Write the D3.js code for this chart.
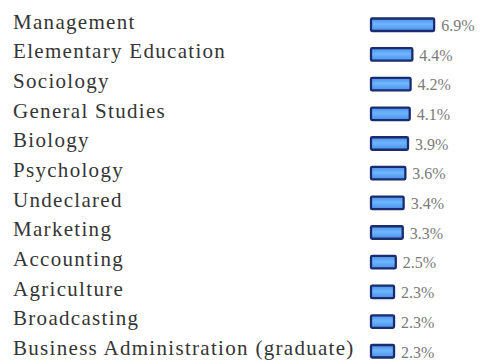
<!DOCTYPE html>
<html>
<head>
<meta charset="utf-8">
<script src="https://cdn.jsdelivr.net/npm/d3@7"></script>
<style>
  html, body { margin: 0; padding: 0; background: #ffffff; }
  svg { display: block; }
  svg text { font-family: "Liberation Serif"; }
</style>
</head>
<body>
<script>
// Share of students by major
const categories = [
  "Management",
  "Elementary Education",
  "Sociology",
  "General Studies",
  "Biology",
  "Psychology",
  "Undeclared",
  "Marketing",
  "Accounting",
  "Agriculture",
  "Broadcasting",
  "Business Administration (graduate)"
];
const values = [6.9, 4.4, 4.2, 4.1, 3.9, 3.6, 3.4, 3.3, 2.5, 2.3, 2.3, 2.3];
const valueLabels = values.map(v => v.toFixed(1) + "%");

const width = 491, height = 364;
const barLeft = 370;

const svg = d3.select("body").append("svg")
  .attr("width", width)
  .attr("height", height)
  .attr("font-family", "Liberation Serif");

const defs = svg.append("defs");
const grad = defs.append("linearGradient")
  .attr("id", "barFill")
  .attr("x1", 0).attr("y1", 0).attr("x2", 0).attr("y2", 1);
grad.append("stop").attr("offset", "0%").attr("stop-color", "#4a8fe8");
grad.append("stop").attr("offset", "45%").attr("stop-color", "#6fb6ff");
grad.append("stop").attr("offset", "100%").attr("stop-color", "#4a8fe8");

// Row positions (bar centres)
const y = d3.scalePoint()
  .domain(categories)
  .range([24.5, 351]);

// Bar length from value
const x = d3.scaleLinear()
  .domain([0, 7])
  .range([5, 66]);

const data = categories.map((c, i) => ({ c, v: values[i], label: valueLabels[i] }));

svg.append("g")
  .selectAll("text")
  .data(data)
  .join("text")
  .attr("x", 13)
  .attr("y", d => y(d.c) + 4)
  .attr("font-family", "Liberation Serif")
  .attr("font-size", 21)
  .attr("letter-spacing", 1.3)
  .attr("fill", "#353535")
  .text(d => d.c);

svg.append("g")
  .selectAll("rect")
  .data(data)
  .join("rect")
  .attr("x", barLeft + 1)
  .attr("y", d => y(d.c) - 6)
  .attr("width", d => x(d.v) - 2)
  .attr("height", 12.5)
  .attr("rx", 1.2)
  .attr("fill", "url(#barFill)")
  .attr("stroke", "#1b2c6e")
  .attr("stroke-width", 2.3);

svg.append("g")
  .selectAll("text")
  .data(data)
  .join("text")
  .attr("x", d => barLeft + x(d.v) + 6)
  .attr("y", d => y(d.c) + 6.5)
  .attr("font-family", "Liberation Serif")
  .attr("font-size", 16)
  .attr("fill", "#7a7a7a")
  .text(d => d.label);
</script>
</body>
</html>
